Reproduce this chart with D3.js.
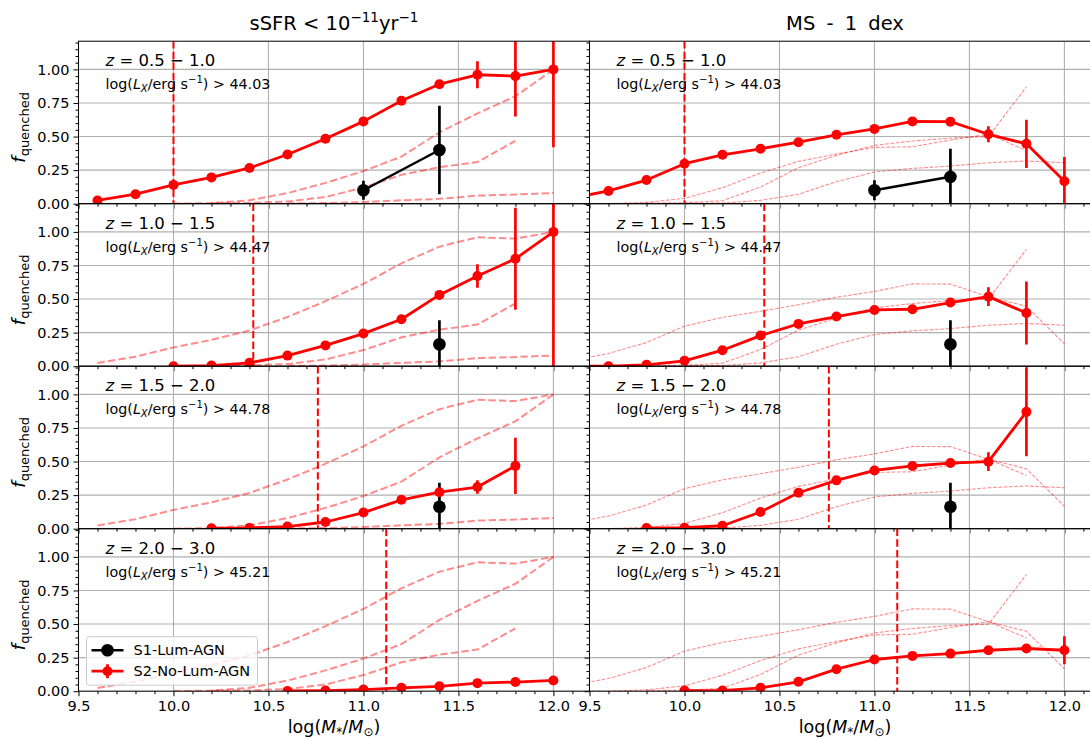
<!DOCTYPE html>
<html><head><meta charset="utf-8">
<script src="https://cdn.jsdelivr.net/npm/d3@7"></script>
<style>body{margin:0;background:#fff} text{font-family:"DejaVu Sans",sans-serif}</style>
</head><body><svg id="c" width="1090" height="740"></svg>
<script>
// ---------- DATA ----------
const columnTitles = ["sSFR", "MS - 1 dex"];
const redshiftBins = ["0.5 \u2212 1.0", "1.0 \u2212 1.5", "1.5 \u2212 2.0", "2.0 \u2212 3.0"];
const lxThresholds = ["44.03", "44.47", "44.78", "45.21"];
const massLimits = [10.0, 10.42, 10.76, 11.12];
const xTicks = [9.5, 10.0, 10.5, 11.0, 11.5, 12.0];
const yTicks = [0, 0.25, 0.5, 0.75, 1.0];
const legendLabels = ["S1-Lum-AGN", "S2-No-Lum-AGN"];

// sSFR < 1e-11 column, S2-No-Lum-AGN (red)
const ssfrMass1 = [9.6, 9.8, 10.0, 10.2, 10.4, 10.6, 10.8, 11.0, 11.2, 11.4, 11.6, 11.8, 12.0];
const ssfrFrac1 = [0.024, 0.071, 0.14, 0.196, 0.266, 0.366, 0.484, 0.613, 0.766, 0.89, 0.96, 0.95, 1.0];
const ssfrErr1  = [0.005, 0.01, 0.01, 0.01, 0.01, 0.015, 0.015, 0.02, 0.02, 0.03, 0.10, 0.30, 0.58];
const ssfrMass2 = [10.0, 10.2, 10.4, 10.6, 10.8, 11.0, 11.2, 11.4, 11.6, 11.8, 12.0];
const ssfrFrac2 = [0.0, 0.005, 0.025, 0.079, 0.155, 0.243, 0.35, 0.531, 0.672, 0.80, 1.0];
const ssfrErr2  = [0.0, 0.003, 0.005, 0.01, 0.015, 0.02, 0.025, 0.035, 0.088, 0.38, 1.0];
const ssfrMass3 = [10.2, 10.4, 10.6, 10.8, 11.0, 11.2, 11.4, 11.6, 11.8];
const ssfrFrac3 = [0.003, 0.006, 0.016, 0.05, 0.12, 0.215, 0.272, 0.31, 0.468];
const ssfrErr3  = [0.003, 0.004, 0.006, 0.01, 0.015, 0.02, 0.03, 0.05, 0.21];
const ssfrMass4 = [10.6, 10.8, 11.0, 11.2, 11.4, 11.6, 11.8, 12.0];
const ssfrFrac4 = [0.002, 0.005, 0.012, 0.025, 0.036, 0.06, 0.068, 0.08];
const ssfrErr4  = [0.002, 0.003, 0.005, 0.006, 0.008, 0.01, 0.012, 0.025];

// MS - 1 dex column, S2-No-Lum-AGN (red)
const msMass1 = [9.4, 9.6, 9.8, 10.0, 10.2, 10.4, 10.6, 10.8, 11.0, 11.2, 11.4, 11.6, 11.8, 12.0];
const msFrac1 = [0.04, 0.095, 0.176, 0.298, 0.364, 0.409, 0.458, 0.513, 0.557, 0.613, 0.611, 0.517, 0.446, 0.167];
const msErr1  = [0.01, 0.01, 0.01, 0.015, 0.015, 0.015, 0.015, 0.015, 0.02, 0.02, 0.03, 0.06, 0.18, 0.18];
const msMass2 = [9.4, 9.6, 9.8, 10.0, 10.2, 10.4, 10.6, 10.8, 11.0, 11.2, 11.4, 11.6, 11.8];
const msFrac2 = [0.0, 0.0, 0.01, 0.04, 0.119, 0.228, 0.315, 0.37, 0.419, 0.424, 0.474, 0.518, 0.396];
const msErr2  = [0.0, 0.0, 0.005, 0.008, 0.01, 0.012, 0.015, 0.015, 0.02, 0.02, 0.025, 0.07, 0.235];
const msMass3 = [9.8, 10.0, 10.2, 10.4, 10.6, 10.8, 11.0, 11.2, 11.4, 11.6, 11.8];
const msFrac3 = [0.005, 0.007, 0.022, 0.124, 0.268, 0.36, 0.434, 0.467, 0.489, 0.499, 0.87];
const msErr3  = [0.003, 0.004, 0.006, 0.01, 0.015, 0.015, 0.02, 0.02, 0.025, 0.07, 0.33];
const msMass4 = [10.0, 10.2, 10.4, 10.6, 10.8, 11.0, 11.2, 11.4, 11.6, 11.8, 12.0];
const msFrac4 = [0.005, 0.005, 0.025, 0.07, 0.164, 0.236, 0.263, 0.28, 0.305, 0.318, 0.305];
const msErr4  = [0.003, 0.003, 0.006, 0.01, 0.012, 0.015, 0.015, 0.015, 0.02, 0.025, 0.105];

// S1-Lum-AGN (black)
const lumSsfrMass1 = [11.0, 11.4], lumSsfrFrac1 = [0.10, 0.40], lumSsfrErr1 = [0.07, 0.33];
const lumSsfrMass2 = [11.4], lumSsfrFrac2 = [0.163], lumSsfrErr2 = [0.18];
const lumSsfrMass3 = [11.4], lumSsfrFrac3 = [0.163], lumSsfrErr3 = [0.18];
const lumSsfrMass4 = [], lumSsfrFrac4 = [], lumSsfrErr4 = [];
const lumMsMass1 = [11.0, 11.4], lumMsFrac1 = [0.10, 0.20], lumMsErr1 = [0.075, 0.21];
const lumMsMass2 = [11.4], lumMsFrac2 = [0.163], lumMsErr2 = [0.18];
const lumMsMass3 = [11.4], lumMsFrac3 = [0.163], lumMsErr3 = [0.18];
const lumMsMass4 = [], lumMsFrac4 = [], lumMsErr4 = [];

// ---------- BUILD ----------
const zip = (xs, ys, es) => xs.map((m, i) => ({x: m, y: ys[i], e: es[i]}));
const columns = [
  { red: [zip(ssfrMass1, ssfrFrac1, ssfrErr1), zip(ssfrMass2, ssfrFrac2, ssfrErr2), zip(ssfrMass3, ssfrFrac3, ssfrErr3), zip(ssfrMass4, ssfrFrac4, ssfrErr4)],
    black: [zip(lumSsfrMass1, lumSsfrFrac1, lumSsfrErr1), zip(lumSsfrMass2, lumSsfrFrac2, lumSsfrErr2), zip(lumSsfrMass3, lumSsfrFrac3, lumSsfrErr3), zip(lumSsfrMass4, lumSsfrFrac4, lumSsfrErr4)],
    faintW: 2, faintDash: "7.4,3.2" },
  { red: [zip(msMass1, msFrac1, msErr1), zip(msMass2, msFrac2, msErr2), zip(msMass3, msFrac3, msErr3), zip(msMass4, msFrac4, msErr4)],
    black: [zip(lumMsMass1, lumMsFrac1, lumMsErr1), zip(lumMsMass2, lumMsFrac2, lumMsErr2), zip(lumMsMass3, lumMsFrac3, lumMsErr3), zip(lumMsMass4, lumMsFrac4, lumMsErr4)],
    faintW: 1.1, faintDash: "3.7,1.6" }
];

const svg = d3.select("#c");
const W = 511, H = 162.5;
const colX = [78.5, 589.5];
const rowY = [41.2, 203.7, 366.2, 528.7];
const x = d3.scaleLinear().domain([9.5, 12.19]).range([0, W]);
const y = d3.scaleLinear().domain([0, 1.21]).range([H, 0]);
const line = d3.line().x(d => x(d.x)).y(d => y(d.y));
const minorX = d3.range(95, 122).map(v => v / 10).filter(v => !xTicks.some(t => Math.abs(t - v) < 1e-6));
const minorY = d3.range(0, 25).map(v => v * 0.05).filter(v => !yTicks.some(t => Math.abs(t - v) < 1e-6));
const TICKFS = 14.5;

function drawSeries(g, data, color, lw, r, ew) {
  if (!data.length) return;
  g.append("path").datum(data).attr("d", line).attr("fill", "none")
    .attr("stroke", color).attr("stroke-width", lw).attr("stroke-linejoin", "round");
  g.selectAll(null).data(data).enter().append("line")
    .attr("x1", d => x(d.x)).attr("x2", d => x(d.x))
    .attr("y1", d => y(d.y - d.e)).attr("y2", d => y(d.y + d.e))
    .attr("stroke", color).attr("stroke-width", ew);
  g.selectAll(null).data(data).enter().append("circle")
    .attr("cx", d => x(d.x)).attr("cy", d => y(d.y)).attr("r", r).attr("fill", color);
}

columns.forEach((col, ci) => {
  col.red.forEach((ser, ri) => {
    const g = svg.append("g").attr("transform", `translate(${colX[ci]},${rowY[ri]})`);
    const clipId = `clip${ci}${ri}`;
    g.append("clipPath").attr("id", clipId).append("rect").attr("width", W).attr("height", H);
    const inner = g.append("g").attr("clip-path", `url(#${clipId})`);
    // grid
    inner.selectAll(null).data(xTicks).enter().append("line")
      .attr("x1", d => x(d)).attr("x2", d => x(d)).attr("y1", 0).attr("y2", H)
      .attr("stroke", "#b0b0b0").attr("stroke-width", 1.1);
    inner.selectAll(null).data(yTicks).enter().append("line")
      .attr("y1", d => y(d)).attr("y2", d => y(d)).attr("x1", 0).attr("x2", W)
      .attr("stroke", "#b0b0b0").attr("stroke-width", 1.1);
    // faint curves of the other redshift bins
    col.red.forEach((other, oi) => {
      if (oi === ri) return;
      inner.append("path").datum(other).attr("d", line).attr("fill", "none")
        .attr("stroke", "red").attr("stroke-opacity", 0.45)
        .attr("stroke-width", col.faintW).attr("stroke-dasharray", col.faintDash);
    });
    // mass limit
    inner.append("line").attr("x1", x(massLimits[ri])).attr("x2", x(massLimits[ri]))
      .attr("y1", 0).attr("y2", H).attr("stroke", "red").attr("stroke-width", 2)
      .attr("stroke-dasharray", "7.4,3.2");
    drawSeries(inner, col.black[ri], "black", 2.5, 6.3, 2.7);
    drawSeries(inner, ser, "red", 2.8, 5, 2.7);

    // axes
    const ax = g.append("g").attr("transform", `translate(0,${H})`)
      .call(d3.axisBottom(x).tickValues(xTicks).tickSize(5).tickPadding(5)
        .tickFormat(ri === 3 ? d3.format(".1f") : ""));
    const axm = g.append("g").attr("transform", `translate(0,${H})`)
      .call(d3.axisBottom(x).tickValues(minorX).tickSize(3).tickFormat(""));
    const ay = g.append("g")
      .call(d3.axisLeft(y).tickValues(yTicks).tickSize(5).tickPadding(4)
        .tickFormat(ci === 0 ? d3.format(".2f") : ""));
    const aym = g.append("g").call(d3.axisLeft(y).tickValues(minorY).tickSize(3).tickFormat(""));
    [ax, axm, ay, aym].forEach(a => {
      a.select(".domain").remove();
      a.selectAll("line").attr("stroke", "black").attr("stroke-width", 1);
      a.selectAll("text").attr("font-family", "DejaVu Sans").attr("font-size", TICKFS).attr("fill", "black");
    });
    // frame
    g.append("rect").attr("width", W).attr("height", H).attr("fill", "none")
      .attr("stroke", "black").attr("stroke-width", 1);

    // annotations
    const t1 = g.append("text").attr("x", 27).attr("y", 25).attr("font-size", 16.5);
    t1.append("tspan").attr("font-style", "italic").text("z");
    t1.append("tspan").text(" = " + redshiftBins[ri]);
    const t2 = g.append("text").attr("x", 27).attr("y", 48).attr("font-size", 14.3);
    t2.append("tspan").text("log(");
    t2.append("tspan").attr("font-style", "italic").text("L");
    t2.append("tspan").attr("font-style", "italic").attr("font-size", 10).attr("dy", 3).text("X");
    t2.append("tspan").attr("dy", -3).text("/erg s");
    t2.append("tspan").attr("font-size", 10).attr("dy", -6).text("\u22121");
    t2.append("tspan").attr("dy", 6).text(") > " + lxThresholds[ri]);

    if (ci === 0) {
      const yl = svg.append("text").attr("transform", `translate(25,${rowY[ri] + H / 2 + 5}) rotate(-90)`)
        .attr("text-anchor", "middle").attr("font-size", 18.5);
      yl.append("tspan").attr("font-style", "italic").text("f");
      yl.append("tspan").attr("font-size", 13).attr("dy", 4).text("quenched");
    }
    if (ri === 3) {
      const xl = svg.append("text").attr("x", colX[ci] + W / 2).attr("y", 733)
        .attr("text-anchor", "middle").attr("font-size", 17.5);
      xl.append("tspan").text("log(");
      xl.append("tspan").attr("font-style", "italic").text("M");
      xl.append("tspan").attr("font-size", 12).attr("dy", 3).text("*");
      xl.append("tspan").attr("dy", -3).text("/");
      xl.append("tspan").attr("font-style", "italic").text("M");
      xl.append("tspan").attr("font-size", 12).attr("dy", 3).text("\u2299");
      xl.append("tspan").attr("dy", -3).text(")");
    }
    if (ci === 0 && ri === 3) {
      const lg = g.append("g").attr("transform", "translate(8,108)");
      lg.append("rect").attr("width", 171).attr("height", 48.5).attr("rx", 3)
        .attr("fill", "white").attr("fill-opacity", 0.8).attr("stroke", "#cccccc").attr("stroke-width", 1);
      const rows = [{c: "black", r: 6.3, lw: 2.5, bar: 0}, {c: "red", r: 5, lw: 2.8, bar: 7}];
      rows.forEach((d, i) => {
        const yy = 13.5 + i * 21;
        lg.append("line").attr("x1", 5).attr("x2", 37).attr("y1", yy).attr("y2", yy)
          .attr("stroke", d.c).attr("stroke-width", d.lw);
        if (d.bar) lg.append("line").attr("x1", 21).attr("x2", 21).attr("y1", yy - d.bar).attr("y2", yy + d.bar)
          .attr("stroke", d.c).attr("stroke-width", 2.7);
        lg.append("circle").attr("cx", 21).attr("cy", yy).attr("r", d.r).attr("fill", d.c);
        lg.append("text").attr("x", 47).attr("y", yy).attr("dy", "0.36em").attr("font-size", 14.5).text(legendLabels[i]);
      });
    }
  });
});

// column titles
const tt = svg.append("text").attr("x", colX[0] + W / 2).attr("y", 30).attr("text-anchor", "middle").attr("font-size", 19.5);
tt.append("tspan").text(columnTitles[0] + " < 10");
tt.append("tspan").attr("font-size", 13.5).attr("dy", -8).text("\u221211");
tt.append("tspan").attr("dy", 8).text("yr");
tt.append("tspan").attr("font-size", 13.5).attr("dy", -8).text("\u22121");
svg.append("text").attr("x", colX[1] + W / 2).attr("y", 30).attr("text-anchor", "middle")
  .attr("font-size", 19.5).attr("word-spacing", 5).text(columnTitles[1]);
</script></body></html>
